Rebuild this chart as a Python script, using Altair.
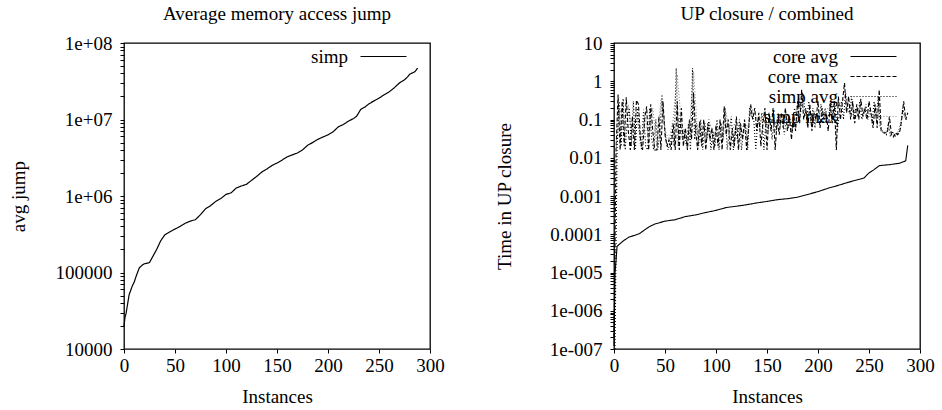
import json
import altair as alt
import pandas as pd

FONT = "Liberation Serif"
FS = 19

# ---------------- Left panel: Average memory access jump ----------------
simp_x = [0, 1, 2, 3, 5, 8, 10, 12, 15, 18, 20, 25, 28, 32, 36, 40, 45, 50, 55, 60,
          65, 70, 75, 80, 85, 90, 95, 100, 105, 108, 110, 115, 120, 125, 130, 135,
          140, 145, 150, 155, 160, 165, 170, 175, 180, 185, 190, 195, 200, 205, 210,
          215, 220, 225, 228, 232, 236, 240, 245, 250, 255, 260, 265, 270, 275, 278,
          280, 285, 288]
simp_y = [2.0e4, 2.6e4, 2.9e4, 3.5e4, 5.1e4, 6.6e4, 7.5e4, 9.0e4, 1.15e5, 1.25e5,
          1.3e5, 1.35e5, 1.6e5, 2.0e5, 2.6e5, 3.1e5, 3.4e5, 3.7e5, 4.0e5, 4.4e5,
          4.7e5, 4.9e5, 5.7e5, 6.8e5, 7.5e5, 8.5e5, 9.3e5, 1.05e6, 1.1e6, 1.2e6,
          1.27e6, 1.35e6, 1.42e6, 1.6e6, 1.8e6, 2.05e6, 2.25e6, 2.5e6, 2.7e6, 2.95e6,
          3.25e6, 3.45e6, 3.65e6, 4.0e6, 4.6e6, 5.0e6, 5.5e6, 5.9e6, 6.3e6, 6.9e6,
          8.0e6, 8.6e6, 9.5e6, 1.03e7, 1.1e7, 1.35e7, 1.45e7, 1.6e7, 1.75e7, 1.9e7,
          2.1e7, 2.3e7, 2.6e7, 3.0e7, 3.3e7, 3.6e7, 3.9e7, 4.2e7, 4.7e7]

# ---------------- Right panel: UP closure / combined ----------------
core_avg_x = [0, 1, 2, 3, 5, 10, 15, 20, 25, 30, 35, 40, 50, 60, 70, 80, 90, 100, 110,
              120, 130, 140, 150, 160, 170, 180, 190, 200, 210, 220, 230, 240, 245,
              250, 255, 260, 270, 280, 286, 288]
core_avg_y = [1.2e-7, 1.0e-5, 2.0e-5, 4.8e-5, 5.4e-5, 7.0e-5, 8.5e-5, 9.3e-5, 1.04e-4,
              1.3e-4, 1.6e-4, 1.85e-4, 2.2e-4, 2.4e-4, 2.9e-4, 3.2e-4, 3.7e-4, 4.2e-4,
              5.0e-4, 5.4e-4, 5.9e-4, 6.6e-4, 7.2e-4, 8.0e-4, 8.5e-4, 9.3e-4, 1.1e-3,
              1.3e-3, 1.6e-3, 1.9e-3, 2.3e-3, 2.7e-3, 2.95e-3, 4.0e-3, 4.9e-3, 6.2e-3,
              6.6e-3, 7.2e-3, 8.3e-3, 2.1e-2]

# core max: instances 0, 2, 4, ..., 288
core_max_y = [2e-7, 0.016, 0.45, 0.016, 0.3, 0.02, 0.38, 0.05, 0.016, 0.12,
              0.016, 0.32, 0.25, 0.03, 0.016, 0.1, 0.22, 0.016, 0.25, 0.05,
              0.016, 0.016, 0.12, 0.016, 0.3, 0.04, 0.02, 0.03, 0.016, 0.08,
              0.016, 0.3, 0.016, 0.2, 0.02, 0.06, 0.016, 0.1, 0.03, 0.5,
              0.05, 0.016, 0.09, 0.02, 0.1, 0.016, 0.08, 0.03, 0.06, 0.016,
              0.07, 0.02, 0.1, 0.016, 0.22, 0.04, 0.1, 0.016, 0.06, 0.02,
              0.12, 0.016, 0.08, 0.03, 0.1, 0.016, 0.06, 0.25, 0.1, 0.2,
              0.05, 0.15, 0.02, 0.08, 0.2, 0.016, 0.15, 0.05, 0.2, 0.016,
              0.1, 0.04, 0.15, 0.06, 0.2, 0.05, 0.12, 0.03, 0.15, 0.05,
              0.3, 0.08, 0.6, 0.1, 0.2, 0.06, 0.25, 0.05, 0.15, 0.1,
              0.3, 0.06, 0.2, 0.1, 0.15, 0.05, 0.25, 0.08, 0.3, 0.016,
              0.4, 0.1, 0.3, 0.9, 0.15, 0.4, 0.1, 0.3, 0.08, 0.25,
              0.1, 0.35, 0.12, 0.2, 0.1, 0.3, 0.15, 0.06, 0.25, 0.06,
              0.6, 0.05, 0.045, 0.045, 0.045, 0.12, 0.04, 0.035, 0.045, 0.04,
              0.045, 0.1, 0.3, 0.1, 0.15]
core_max_x = list(range(0, 2 * len(core_max_y), 2))

# simp avg: instances 1, 3, 5, ..., 287
simp_avg_y = [1e-7, 0.016, 0.3, 0.02, 0.35, 0.016, 0.1, 0.2, 0.02, 0.3,
              0.016, 0.2, 0.05, 0.016, 0.18, 0.02, 0.016, 0.2, 0.03, 0.016,
              0.1, 0.016, 0.05, 0.45, 0.1, 0.03, 0.016, 0.025, 0.05, 0.02,
              2.2, 0.02, 0.15, 0.03, 0.05, 0.02, 0.08, 0.016, 2.2, 0.03,
              0.08, 0.02, 0.1, 0.016, 0.08, 0.03, 0.1, 0.016, 0.05, 0.02,
              0.1, 0.016, 0.08, 0.03, 0.2, 0.016, 0.05, 0.12, 0.016, 0.06,
              0.03, 0.1, 0.016, 0.05, 0.08, 0.016, 0.2, 0.12, 0.1, 0.016,
              0.1, 0.06, 0.15, 0.016, 0.1, 0.05, 0.12, 0.03, 0.1, 0.05,
              0.15, 0.07, 0.1, 0.04, 0.12, 0.06, 0.1, 0.05, 0.2, 0.1,
              0.4, 0.15, 0.5, 0.2, 0.1, 0.3, 0.08, 0.2, 0.06, 0.15,
              0.1, 0.25, 0.08, 0.2, 0.1, 0.15, 0.3, 0.1, 0.2, 0.05,
              0.15, 0.3, 0.1, 0.5, 0.2, 0.15, 0.4, 0.1, 0.2, 0.12,
              0.3, 0.1, 0.15, 0.25, 0.1, 0.2, 0.08, 0.3, 0.1, 0.4,
              0.06, 0.05, 0.045, 0.04, 0.08, 0.035, 0.05, 0.035, 0.04, 0.045,
              0.06, 0.2, 0.12, 0.1]
simp_avg_x = list(range(1, 2 * len(simp_avg_y) + 1, 2))

# simp max: instances 2, 6, 10, ..., 286
simp_max_y = [0.016, 0.2, 0.05, 0.25, 0.03, 0.2, 0.02, 0.15, 0.03, 0.2,
              0.02, 0.35, 0.05, 0.03, 0.1, 1.5, 0.08, 0.04, 0.06, 1.8,
              0.04, 0.07, 0.03, 0.08, 0.04, 0.06, 0.05, 0.15, 0.03, 0.08,
              0.05, 0.07, 0.04, 0.2, 0.15, 0.08, 0.12, 0.06, 0.1, 0.08,
              0.12, 0.09, 0.1, 0.08, 0.15, 0.3, 0.2, 0.15, 0.12, 0.18,
              0.15, 0.12, 0.2, 0.15, 0.1, 0.2, 0.4, 0.25, 0.2, 0.15,
              0.2, 0.18, 0.15, 0.12, 0.2, 0.05, 0.045, 0.06, 0.04, 0.045,
              0.1, 0.15]
simp_max_x = list(range(2, 4 * len(simp_max_y) + 2, 4))

series_names = ["core avg", "core max", "simp avg", "simp max"]
series_dash = [[1, 0], [4, 2], [1, 2], [1, 2]]
series_color = ["#000000", "#000000", "#000000", "#8a8a8a"]

# ---------------- ticks ----------------
x_ticks = [0, 50, 100, 150, 200, 250, 300]
left_ticks = [m * 10 ** k for k in range(4, 8) for m in range(1, 10)] + [10 ** 8]
right_ticks = [m * 10.0 ** k for k in range(-7, 1) for m in range(1, 10)] + [10.0]
right_labels = ["1e-007", "1e-006", "1e-005", "0.0001", "0.001", "0.01", "0.1", "1", "10"]

LOG = "(log(datum.value)/LN10)"
MAJ = f"(abs({LOG} - round({LOG})) < 0.001)"
left_label_expr = (f"{MAJ} ? (datum.value >= 1e6 ? '1e+0' + round({LOG}) : "
                   f"format(datum.value, 'd')) : ''")
right_label_expr = f"{MAJ} ? {json.dumps(right_labels)}[round({LOG}) + 7] : ''"

W = 306
H = 306
TICK = 4

common_axis = dict(domain=False, grid=False, ticks=True, tickSize=TICK, tickColor="black",
                   tickWidth=1, labelFlush=False, labelOverlap=False,
                   labelFont=FONT, labelFontSize=FS, labelColor="black",
                   titleFont=FONT, titleFontSize=FS, titleColor="black",
                   titleFontWeight="normal")

XS = alt.Scale(domain=[0, 300], nice=False, zero=False)


def ys(domain):
    return alt.Scale(type="log", domain=domain, nice=False)


legend_common = dict(orient="none", legendX=250, legendY=4, title=None, padding=0,
                     symbolType="M-4.6,0H4.6", symbolSize=100, symbolStrokeWidth=1.2,
                     symbolOffset=0, labelOffset=alt.ExprRef("-45"), labelAlign="right",
                     labelFont=FONT, labelFontSize=FS, labelColor="black",
                     rowPadding=0, labelLimit=300)


def panel(df, ydom, yticks, label_expr, ytitle, ytitle_x, title,
          stroke_enc, color_enc=None, line_kwargs=None):
    x_axis = alt.Axis(values=x_ticks, labelPadding=3, title="Instances",
                      titleY=47, titleBaseline="middle", **common_axis)
    y_axis = alt.Axis(values=yticks, labelExpr=label_expr, labelPadding=8,
                      title=ytitle, titleX=ytitle_x, titleY=H / 2, titleAngle=270,
                      titleBaseline="middle", titleAlign="center", **common_axis)
    enc = dict(x=alt.X("x:Q", scale=XS, axis=x_axis),
               y=alt.Y("y:Q", scale=ys(ydom), axis=y_axis),
               strokeDash=stroke_enc)
    if color_enc is not None:
        enc["color"] = color_enc
    return alt.Chart(df).mark_line(**(line_kwargs or {})).encode(**enc).properties(
        width=W, height=H,
        title=alt.TitleParams(title, font=FONT, fontSize=FS, fontWeight="normal",
                              color="black", offset=10, anchor="middle"))


# ---- left chart ----
left_df = pd.DataFrame({"x": simp_x, "y": simp_y, "series": ["simp"] * len(simp_x)})
left = panel(
    left_df, [1e4, 1e8], left_ticks, left_label_expr,
    "avg jump", -106, "Average memory access jump",
    alt.StrokeDash("series:N", scale=alt.Scale(domain=["simp"], range=[[1, 0]]),
                   legend=alt.Legend(**legend_common)),
    line_kwargs=dict(color="black", strokeWidth=1.2))

# ---- right chart ----
frames = [
    pd.DataFrame({"x": core_avg_x, "y": core_avg_y, "series": "core avg"}),
    pd.DataFrame({"x": core_max_x, "y": core_max_y, "series": "core max"}),
    pd.DataFrame({"x": simp_avg_x, "y": simp_avg_y, "series": "simp avg"}),
    pd.DataFrame({"x": simp_max_x, "y": simp_max_y, "series": "simp max"}),
]
right_df = pd.concat(frames, ignore_index=True)
right = panel(
    right_df, [1e-7, 10], right_ticks, right_label_expr,
    "Time in UP closure", -110, "UP closure / combined",
    alt.StrokeDash("series:N", scale=alt.Scale(domain=series_names, range=series_dash),
                   legend=alt.Legend(**legend_common)),
    color_enc=alt.Color("series:N",
                        scale=alt.Scale(domain=series_names, range=series_color),
                        legend=alt.Legend(**legend_common)),
    line_kwargs=dict(strokeWidth=1.1))

chart = alt.hconcat(left, right, spacing=49).resolve_scale(
    strokeDash="independent", color="independent").resolve_legend(
    strokeDash="independent", color="independent").properties(
    padding={"left": 8, "top": 4, "right": 5, "bottom": 5},
    background="white").configure_view(stroke="black", strokeWidth=1.3)

chart.save("out.html", embed_options={"renderer": "svg", "actions": False})
